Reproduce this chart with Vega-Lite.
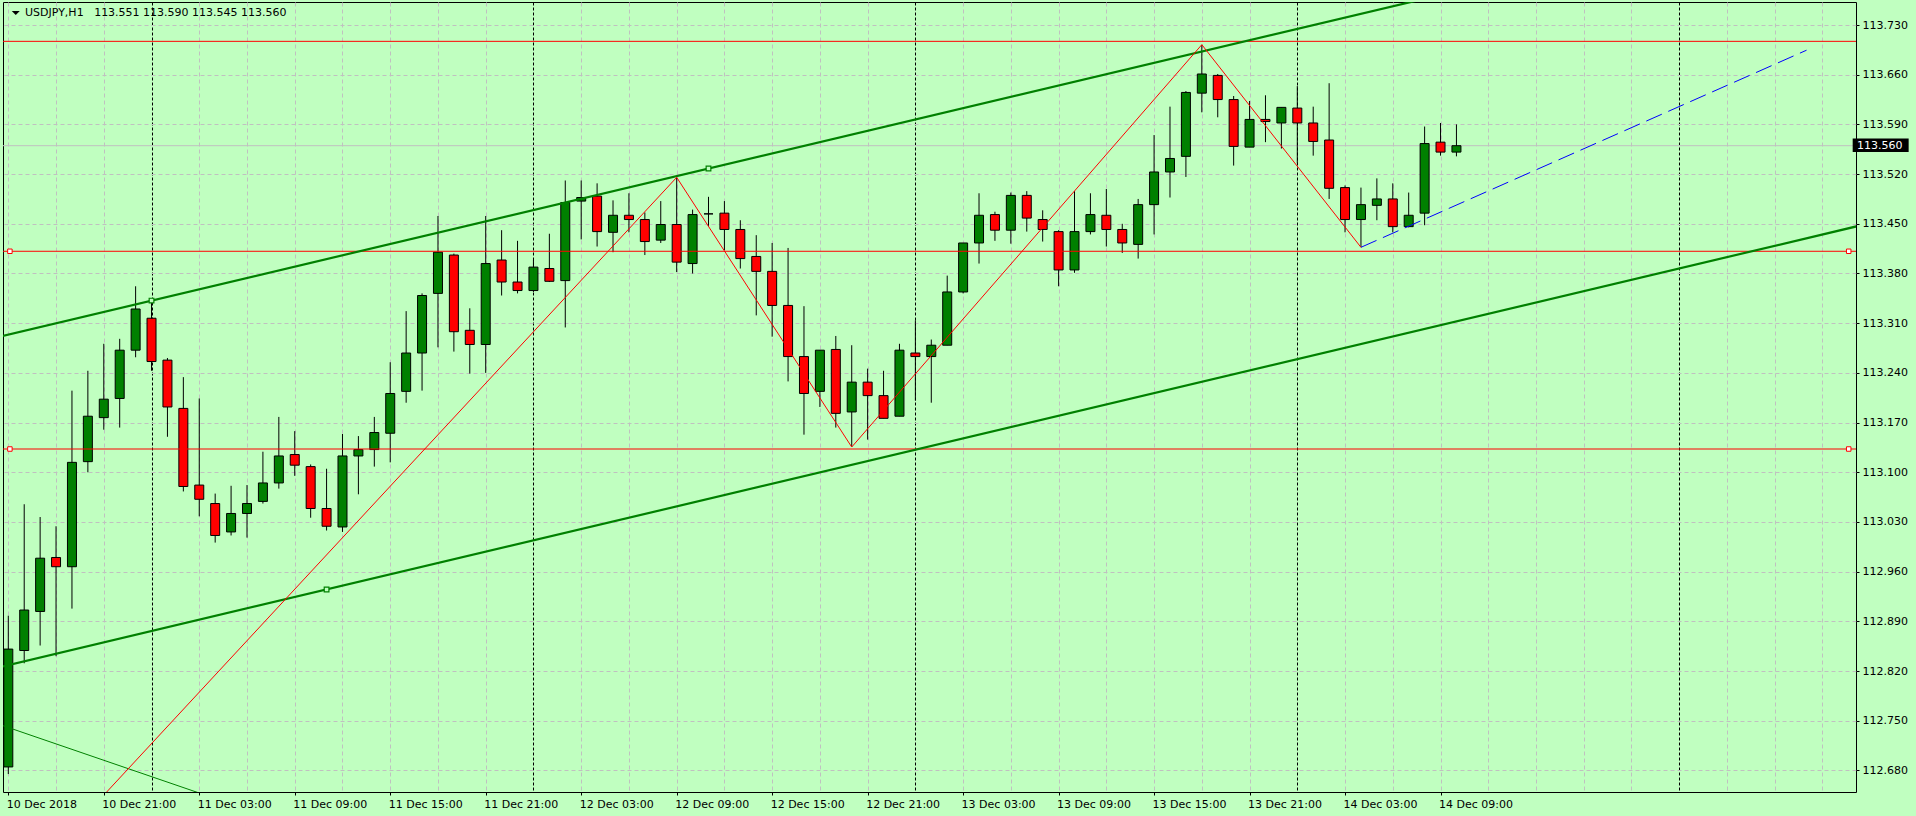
{
  "$schema": "https://vega.github.io/schema/vega-lite/v6.json",
  "width": 1853,
  "height": 790,
  "autosize": {"type": "none"},
  "padding": {"left": 3, "top": 2, "right": 60, "bottom": 24},
  "background": "#C0FFC0",
  "config": {
    "view": {"stroke": "#000000", "strokeWidth": 1, "fill": "#C0FFC0"},
    "axis": {"labelFont": "DejaVu Sans", "labelFontSize": 11, "labelColor": "#000000"}
  },
  "datasets": {
    "candles": [
      {"t":"2018-12-10T15:00Z","o":112.685,"h":112.898,"l":112.675,"c":112.851},
      {"t":"2018-12-10T16:00Z","o":112.849,"h":113.055,"l":112.831,"c":112.906},
      {"t":"2018-12-10T17:00Z","o":112.904,"h":113.037,"l":112.856,"c":112.979},
      {"t":"2018-12-10T18:00Z","o":112.980,"h":113.024,"l":112.841,"c":112.967},
      {"t":"2018-12-10T19:00Z","o":112.967,"h":113.215,"l":112.908,"c":113.114},
      {"t":"2018-12-10T20:00Z","o":113.115,"h":113.243,"l":113.100,"c":113.179},
      {"t":"2018-12-10T21:00Z","o":113.177,"h":113.281,"l":113.160,"c":113.203},
      {"t":"2018-12-10T22:00Z","o":113.204,"h":113.288,"l":113.163,"c":113.272},
      {"t":"2018-12-10T23:00Z","o":113.272,"h":113.362,"l":113.262,"c":113.330},
      {"t":"2018-12-11T00:00Z","o":113.317,"h":113.343,"l":113.243,"c":113.256},
      {"t":"2018-12-11T01:00Z","o":113.258,"h":113.261,"l":113.150,"c":113.192},
      {"t":"2018-12-11T02:00Z","o":113.190,"h":113.234,"l":113.073,"c":113.080},
      {"t":"2018-12-11T03:00Z","o":113.082,"h":113.204,"l":113.038,"c":113.062},
      {"t":"2018-12-11T04:00Z","o":113.056,"h":113.070,"l":113.001,"c":113.011},
      {"t":"2018-12-11T05:00Z","o":113.016,"h":113.081,"l":113.011,"c":113.042},
      {"t":"2018-12-11T06:00Z","o":113.042,"h":113.082,"l":113.008,"c":113.056},
      {"t":"2018-12-11T07:00Z","o":113.059,"h":113.129,"l":113.056,"c":113.085},
      {"t":"2018-12-11T08:00Z","o":113.085,"h":113.178,"l":113.077,"c":113.123},
      {"t":"2018-12-11T09:00Z","o":113.125,"h":113.158,"l":113.095,"c":113.110},
      {"t":"2018-12-11T10:00Z","o":113.108,"h":113.111,"l":113.036,"c":113.049},
      {"t":"2018-12-11T11:00Z","o":113.049,"h":113.105,"l":113.018,"c":113.024},
      {"t":"2018-12-11T12:00Z","o":113.023,"h":113.154,"l":113.016,"c":113.123},
      {"t":"2018-12-11T13:00Z","o":113.123,"h":113.151,"l":113.069,"c":113.132},
      {"t":"2018-12-11T14:00Z","o":113.132,"h":113.178,"l":113.108,"c":113.156},
      {"t":"2018-12-11T15:00Z","o":113.155,"h":113.255,"l":113.114,"c":113.211},
      {"t":"2018-12-11T16:00Z","o":113.214,"h":113.327,"l":113.198,"c":113.268},
      {"t":"2018-12-11T17:00Z","o":113.268,"h":113.352,"l":113.215,"c":113.349},
      {"t":"2018-12-11T18:00Z","o":113.352,"h":113.461,"l":113.276,"c":113.410},
      {"t":"2018-12-11T19:00Z","o":113.406,"h":113.408,"l":113.270,"c":113.298},
      {"t":"2018-12-11T20:00Z","o":113.300,"h":113.331,"l":113.239,"c":113.280},
      {"t":"2018-12-11T21:00Z","o":113.280,"h":113.461,"l":113.240,"c":113.394},
      {"t":"2018-12-11T22:00Z","o":113.399,"h":113.441,"l":113.349,"c":113.368},
      {"t":"2018-12-11T23:00Z","o":113.368,"h":113.426,"l":113.352,"c":113.356},
      {"t":"2018-12-12T00:00Z","o":113.356,"h":113.399,"l":113.354,"c":113.389},
      {"t":"2018-12-12T01:00Z","o":113.387,"h":113.436,"l":113.368,"c":113.369},
      {"t":"2018-12-12T02:00Z","o":113.370,"h":113.511,"l":113.304,"c":113.480},
      {"t":"2018-12-12T03:00Z","o":113.482,"h":113.511,"l":113.428,"c":113.487},
      {"t":"2018-12-12T04:00Z","o":113.489,"h":113.507,"l":113.418,"c":113.439},
      {"t":"2018-12-12T05:00Z","o":113.438,"h":113.483,"l":113.410,"c":113.462},
      {"t":"2018-12-12T06:00Z","o":113.462,"h":113.493,"l":113.438,"c":113.456},
      {"t":"2018-12-12T07:00Z","o":113.456,"h":113.466,"l":113.406,"c":113.425},
      {"t":"2018-12-12T08:00Z","o":113.427,"h":113.482,"l":113.423,"c":113.449},
      {"t":"2018-12-12T09:00Z","o":113.449,"h":113.515,"l":113.382,"c":113.396},
      {"t":"2018-12-12T10:00Z","o":113.394,"h":113.470,"l":113.380,"c":113.463},
      {"t":"2018-12-12T11:00Z","o":113.464,"h":113.488,"l":113.447,"c":113.464},
      {"t":"2018-12-12T12:00Z","o":113.465,"h":113.482,"l":113.413,"c":113.442},
      {"t":"2018-12-12T13:00Z","o":113.442,"h":113.455,"l":113.387,"c":113.401},
      {"t":"2018-12-12T14:00Z","o":113.404,"h":113.434,"l":113.321,"c":113.383},
      {"t":"2018-12-12T15:00Z","o":113.383,"h":113.423,"l":113.291,"c":113.335},
      {"t":"2018-12-12T16:00Z","o":113.335,"h":113.416,"l":113.228,"c":113.263},
      {"t":"2018-12-12T17:00Z","o":113.263,"h":113.334,"l":113.153,"c":113.211},
      {"t":"2018-12-12T18:00Z","o":113.214,"h":113.272,"l":113.192,"c":113.272},
      {"t":"2018-12-12T19:00Z","o":113.273,"h":113.292,"l":113.163,"c":113.183},
      {"t":"2018-12-12T20:00Z","o":113.185,"h":113.279,"l":113.136,"c":113.227},
      {"t":"2018-12-12T21:00Z","o":113.227,"h":113.246,"l":113.146,"c":113.208},
      {"t":"2018-12-12T22:00Z","o":113.208,"h":113.243,"l":113.176,"c":113.176},
      {"t":"2018-12-12T23:00Z","o":113.179,"h":113.281,"l":113.179,"c":113.272},
      {"t":"2018-12-13T00:00Z","o":113.268,"h":113.314,"l":113.201,"c":113.263},
      {"t":"2018-12-13T01:00Z","o":113.263,"h":113.287,"l":113.198,"c":113.279},
      {"t":"2018-12-13T02:00Z","o":113.279,"h":113.377,"l":113.279,"c":113.354},
      {"t":"2018-12-13T03:00Z","o":113.354,"h":113.423,"l":113.352,"c":113.423},
      {"t":"2018-12-13T04:00Z","o":113.423,"h":113.493,"l":113.394,"c":113.462},
      {"t":"2018-12-13T05:00Z","o":113.463,"h":113.467,"l":113.426,"c":113.441},
      {"t":"2018-12-13T06:00Z","o":113.441,"h":113.494,"l":113.422,"c":113.490},
      {"t":"2018-12-13T07:00Z","o":113.490,"h":113.496,"l":113.439,"c":113.458},
      {"t":"2018-12-13T08:00Z","o":113.456,"h":113.469,"l":113.425,"c":113.442},
      {"t":"2018-12-13T09:00Z","o":113.439,"h":113.441,"l":113.362,"c":113.385},
      {"t":"2018-12-13T10:00Z","o":113.385,"h":113.496,"l":113.381,"c":113.439},
      {"t":"2018-12-13T11:00Z","o":113.439,"h":113.493,"l":113.435,"c":113.463},
      {"t":"2018-12-13T12:00Z","o":113.462,"h":113.499,"l":113.418,"c":113.442},
      {"t":"2018-12-13T13:00Z","o":113.442,"h":113.450,"l":113.409,"c":113.423},
      {"t":"2018-12-13T14:00Z","o":113.421,"h":113.485,"l":113.401,"c":113.477},
      {"t":"2018-12-13T15:00Z","o":113.477,"h":113.575,"l":113.435,"c":113.523},
      {"t":"2018-12-13T16:00Z","o":113.523,"h":113.615,"l":113.487,"c":113.542},
      {"t":"2018-12-13T17:00Z","o":113.545,"h":113.637,"l":113.516,"c":113.635},
      {"t":"2018-12-13T18:00Z","o":113.634,"h":113.702,"l":113.607,"c":113.661},
      {"t":"2018-12-13T19:00Z","o":113.659,"h":113.661,"l":113.600,"c":113.625},
      {"t":"2018-12-13T20:00Z","o":113.625,"h":113.630,"l":113.532,"c":113.559},
      {"t":"2018-12-13T21:00Z","o":113.558,"h":113.623,"l":113.558,"c":113.597},
      {"t":"2018-12-13T22:00Z","o":113.597,"h":113.631,"l":113.565,"c":113.594},
      {"t":"2018-12-13T23:00Z","o":113.592,"h":113.614,"l":113.556,"c":113.614},
      {"t":"2018-12-14T00:00Z","o":113.613,"h":113.644,"l":113.535,"c":113.592},
      {"t":"2018-12-14T01:00Z","o":113.592,"h":113.615,"l":113.546,"c":113.566},
      {"t":"2018-12-14T02:00Z","o":113.568,"h":113.648,"l":113.485,"c":113.500},
      {"t":"2018-12-14T03:00Z","o":113.501,"h":113.504,"l":113.438,"c":113.456},
      {"t":"2018-12-14T04:00Z","o":113.456,"h":113.501,"l":113.417,"c":113.477},
      {"t":"2018-12-14T05:00Z","o":113.476,"h":113.514,"l":113.455,"c":113.485},
      {"t":"2018-12-14T06:00Z","o":113.485,"h":113.507,"l":113.438,"c":113.446},
      {"t":"2018-12-14T07:00Z","o":113.446,"h":113.494,"l":113.445,"c":113.462},
      {"t":"2018-12-14T08:00Z","o":113.465,"h":113.587,"l":113.448,"c":113.563},
      {"t":"2018-12-14T09:00Z","o":113.565,"h":113.592,"l":113.546,"c":113.551},
      {"t":"2018-12-14T10:00Z","o":113.551,"h":113.590,"l":113.545,"c":113.560}
    ],
    "hlines": [{"p": 113.707}, {"p": 113.4113}, {"p": 113.1328}],
    "bid": [{"bid": 113.560}],
    "trend": [
      {"kind":"channel","t1":"2018-12-10T13:00Z","p1":113.2834,"t2":"2018-12-15T15:00Z","p2":113.9317},
      {"kind":"channel","t1":"2018-12-10T13:00Z","p1":112.8179,"t2":"2018-12-15T15:00Z","p2":113.4669},
      {"kind":"thin","t1":"2018-12-10T13:00Z","p1":112.7559,"t2":"2018-12-11T06:00Z","p2":112.6252},
      {"kind":"projection","t1":"2018-12-14T04:00Z","p1":113.4169,"t2":"2018-12-15T08:00Z","p2":113.6945}
    ],
    "zigzag": [
      {"t":"2018-12-10T12:00Z","p":112.4278},
      {"t":"2018-12-12T09:00Z","p":113.5154},
      {"t":"2018-12-12T20:00Z","p":113.1356},
      {"t":"2018-12-13T18:00Z","p":113.7023},
      {"t":"2018-12-14T04:00Z","p":113.4169}
    ],
    "anchors": [
      {"kind":"g","t":"2018-12-11T00:00Z","p":113.3418},
      {"kind":"g","t":"2018-12-12T11:00Z","p":113.5278},
      {"kind":"g","t":"2018-12-11T11:00Z","p":112.9349},
      {"kind":"r","t":"2018-12-10T15:06Z","p":113.4113},
      {"kind":"r","t":"2018-12-10T15:06Z","p":113.1328},
      {"kind":"r","t":"2018-12-15T10:39Z","p":113.4113},
      {"kind":"r","t":"2018-12-15T10:39Z","p":113.1328}
    ],
    "header": [{"label": "USDJPY,H1\u00a0\u00a0 113.551 113.590 113.545 113.560"}]
  },
  "layer": [
    {
      "data": {"name": "bid"},
      "mark": {"type": "rule", "color": "#C0C0C0", "strokeWidth": 1},
      "encoding": {"y": {"field": "bid", "type": "quantitative", "title": null}}
    },
    {
      "data": {"name": "candles"},
      "mark": {"type": "rule", "color": "#000000", "strokeWidth": 1},
      "encoding": {
        "x": {
          "field": "t", "type": "temporal", "title": null,
          "scale": {"type": "utc", "domain": [1544453931600, 1544870858400], "nice": false},
          "axis": {
            "values": [1544454000000,1544464800000,1544475600000,1544486400000,1544497200000,1544508000000,1544518800000,1544529600000,1544540400000,1544551200000,1544562000000,1544572800000,1544583600000,1544594400000,1544605200000,1544616000000,1544626800000,1544637600000,1544648400000,1544659200000,1544670000000,1544680800000,1544691600000,1544702400000,1544713200000,1544724000000,1544734800000,1544745600000,1544756400000,1544767200000,1544778000000,1544788800000,1544799600000,1544810400000,1544821200000,1544832000000,1544842800000,1544853600000,1544864400000],
            "grid": true,
            "gridWidth": 1,
            "gridColor": {"condition": {"test": "indexof([9,33,57,81,105], round((datum.value-1544454000000)/3600000)) >= 0", "value": "#000000"}, "value": "#C0C0C0"},
            "gridDash": {"condition": {"test": "indexof([9,33,57,81,105], round((datum.value-1544454000000)/3600000)) >= 0", "value": [3, 2]}, "value": [4, 3]},
            "domain": false,
            "tickSize": 3,
            "tickColor": "#000000",
            "tickOpacity": {"condition": {"test": "round((datum.value-1544454000000)/3600000) % 6 == 0 && round((datum.value-1544454000000)/3600000) <= 90", "value": 1}, "value": 0},
            "labelExpr": "round((datum.value-1544454000000)/3600000) == 0 ? '10 Dec 2018' : (round((datum.value-1544454000000)/3600000) % 6 == 0 && round((datum.value-1544454000000)/3600000) <= 90 ? utcFormat(datum.value, '%d %b %H:%M') : '')",
            "labelAlign": "left",
            "labelBaseline": "alphabetic",
            "labelPadding": 12,
            "labelOffset": -2,
            "labelOverlap": false,
            "labelFlush": false,
            "labelBound": false
          }
        },
        "y": {
          "field": "l", "type": "quantitative", "title": null,
          "scale": {"domain": [112.6497, 113.7624], "nice": false, "zero": false},
          "axis": {
            "orient": "right",
            "values": [112.68,112.75,112.82,112.89,112.96,113.03,113.1,113.17,113.24,113.31,113.38,113.45,113.52,113.59,113.66,113.73],
            "format": ".3f",
            "grid": true,
            "gridColor": "#C0C0C0",
            "gridDash": [4, 3],
            "gridWidth": 1,
            "domain": false,
            "tickSize": 3,
            "tickColor": "#000000",
            "labelPadding": 3,
            "labelOverlap": false,
            "labelFlush": false,
            "labelBound": false
          }
        },
        "y2": {"field": "h"}
      }
    },
    {
      "data": {"name": "candles"},
      "mark": {"type": "bar", "width": 9, "stroke": "#000000", "strokeWidth": 1},
      "encoding": {
        "x": {"field": "t", "type": "temporal", "title": null},
        "y": {"field": "o", "type": "quantitative", "title": null},
        "y2": {"field": "c"},
        "fill": {"condition": {"test": "datum.c >= datum.o", "value": "#008000"}, "value": "#FF0000"}
      }
    },
    {
      "data": {"name": "hlines"},
      "mark": {"type": "rule", "color": "#FF0000", "strokeWidth": 1},
      "encoding": {"y": {"field": "p", "type": "quantitative", "title": null}}
    },
    {
      "data": {"name": "trend"},
      "transform": [{"filter": "datum.kind == 'channel'"}],
      "mark": {"type": "rule", "color": "#008000", "strokeWidth": 2.2, "clip": true},
      "encoding": {
        "x": {"field": "t1", "type": "temporal", "title": null},
        "x2": {"field": "t2"},
        "y": {"field": "p1", "type": "quantitative", "title": null},
        "y2": {"field": "p2"}
      }
    },
    {
      "data": {"name": "trend"},
      "transform": [{"filter": "datum.kind == 'thin'"}],
      "mark": {"type": "rule", "color": "#008000", "strokeWidth": 1, "clip": true},
      "encoding": {
        "x": {"field": "t1", "type": "temporal", "title": null},
        "x2": {"field": "t2"},
        "y": {"field": "p1", "type": "quantitative", "title": null},
        "y2": {"field": "p2"}
      }
    },
    {
      "data": {"name": "trend"},
      "transform": [{"filter": "datum.kind == 'projection'"}],
      "mark": {"type": "rule", "color": "#0000FF", "strokeWidth": 1, "strokeDash": [17, 7], "clip": true},
      "encoding": {
        "x": {"field": "t1", "type": "temporal", "title": null},
        "x2": {"field": "t2"},
        "y": {"field": "p1", "type": "quantitative", "title": null},
        "y2": {"field": "p2"}
      }
    },
    {
      "data": {"name": "zigzag"},
      "mark": {"type": "line", "color": "#FF0000", "strokeWidth": 1, "clip": true},
      "encoding": {
        "x": {"field": "t", "type": "temporal", "title": null},
        "y": {"field": "p", "type": "quantitative", "title": null}
      }
    },
    {
      "data": {"name": "anchors"},
      "transform": [{"filter": "datum.kind == 'g'"}],
      "mark": {"type": "point", "shape": "square", "size": 22, "filled": false, "stroke": "#008000", "fill": "#C0FFC0", "fillOpacity": 1, "strokeWidth": 1.2, "opacity": 1},
      "encoding": {
        "x": {"field": "t", "type": "temporal", "title": null},
        "y": {"field": "p", "type": "quantitative", "title": null}
      }
    },
    {
      "data": {"name": "anchors"},
      "transform": [{"filter": "datum.kind == 'r'"}],
      "mark": {"type": "point", "shape": "square", "size": 20, "filled": false, "stroke": "#FF0000", "fill": "#FFFFFF", "fillOpacity": 1, "strokeWidth": 1, "opacity": 1},
      "encoding": {
        "x": {"field": "t", "type": "temporal", "title": null},
        "y": {"field": "p", "type": "quantitative", "title": null}
      }
    },
    {
      "data": {"name": "header"},
      "mark": {"type": "text", "font": "DejaVu Sans", "fontSize": 11, "color": "#000000", "align": "left", "baseline": "alphabetic"},
      "encoding": {
        "x": {"datum": {"year": 2018, "month": 12, "date": 10, "hours": 16, "minutes": 3, "utc": true}, "type": "temporal"},
        "y": {"datum": 113.742, "type": "quantitative"},
        "text": {"field": "label"}
      }
    },
    {
      "data": {"name": "header"},
      "mark": {"type": "point", "shape": "M-1,-0.5L1,-0.5L0,0.5Z", "size": 64, "filled": true, "color": "#000000", "opacity": 1},
      "encoding": {
        "x": {"datum": {"year": 2018, "month": 12, "date": 10, "hours": 15, "minutes": 28, "utc": true}, "type": "temporal"},
        "y": {"datum": 113.7469, "type": "quantitative"}
      }
    },
    {
      "data": {"name": "bid"},
      "mark": {"type": "rect", "color": "#000000", "clip": false},
      "encoding": {
        "x": {"datum": {"year": 2018, "month": 12, "date": 15, "hours": 10, "minutes": 54, "utc": true}, "type": "temporal"},
        "x2": {"datum": {"year": 2018, "month": 12, "date": 15, "hours": 14, "minutes": 25, "utc": true}},
        "y": {"datum": 113.5701, "type": "quantitative"},
        "y2": {"datum": 113.5511}
      }
    },
    {
      "data": {"name": "bid"},
      "mark": {"type": "text", "font": "DejaVu Sans", "fontSize": 11, "color": "#FFFFFF", "align": "left", "baseline": "middle", "clip": false},
      "encoding": {
        "x": {"datum": {"year": 2018, "month": 12, "date": 15, "hours": 11, "minutes": 10, "utc": true}, "type": "temporal"},
        "y": {"field": "bid", "type": "quantitative", "title": null},
        "text": {"field": "bid", "format": ".3f"}
      }
    }
  ]
}
